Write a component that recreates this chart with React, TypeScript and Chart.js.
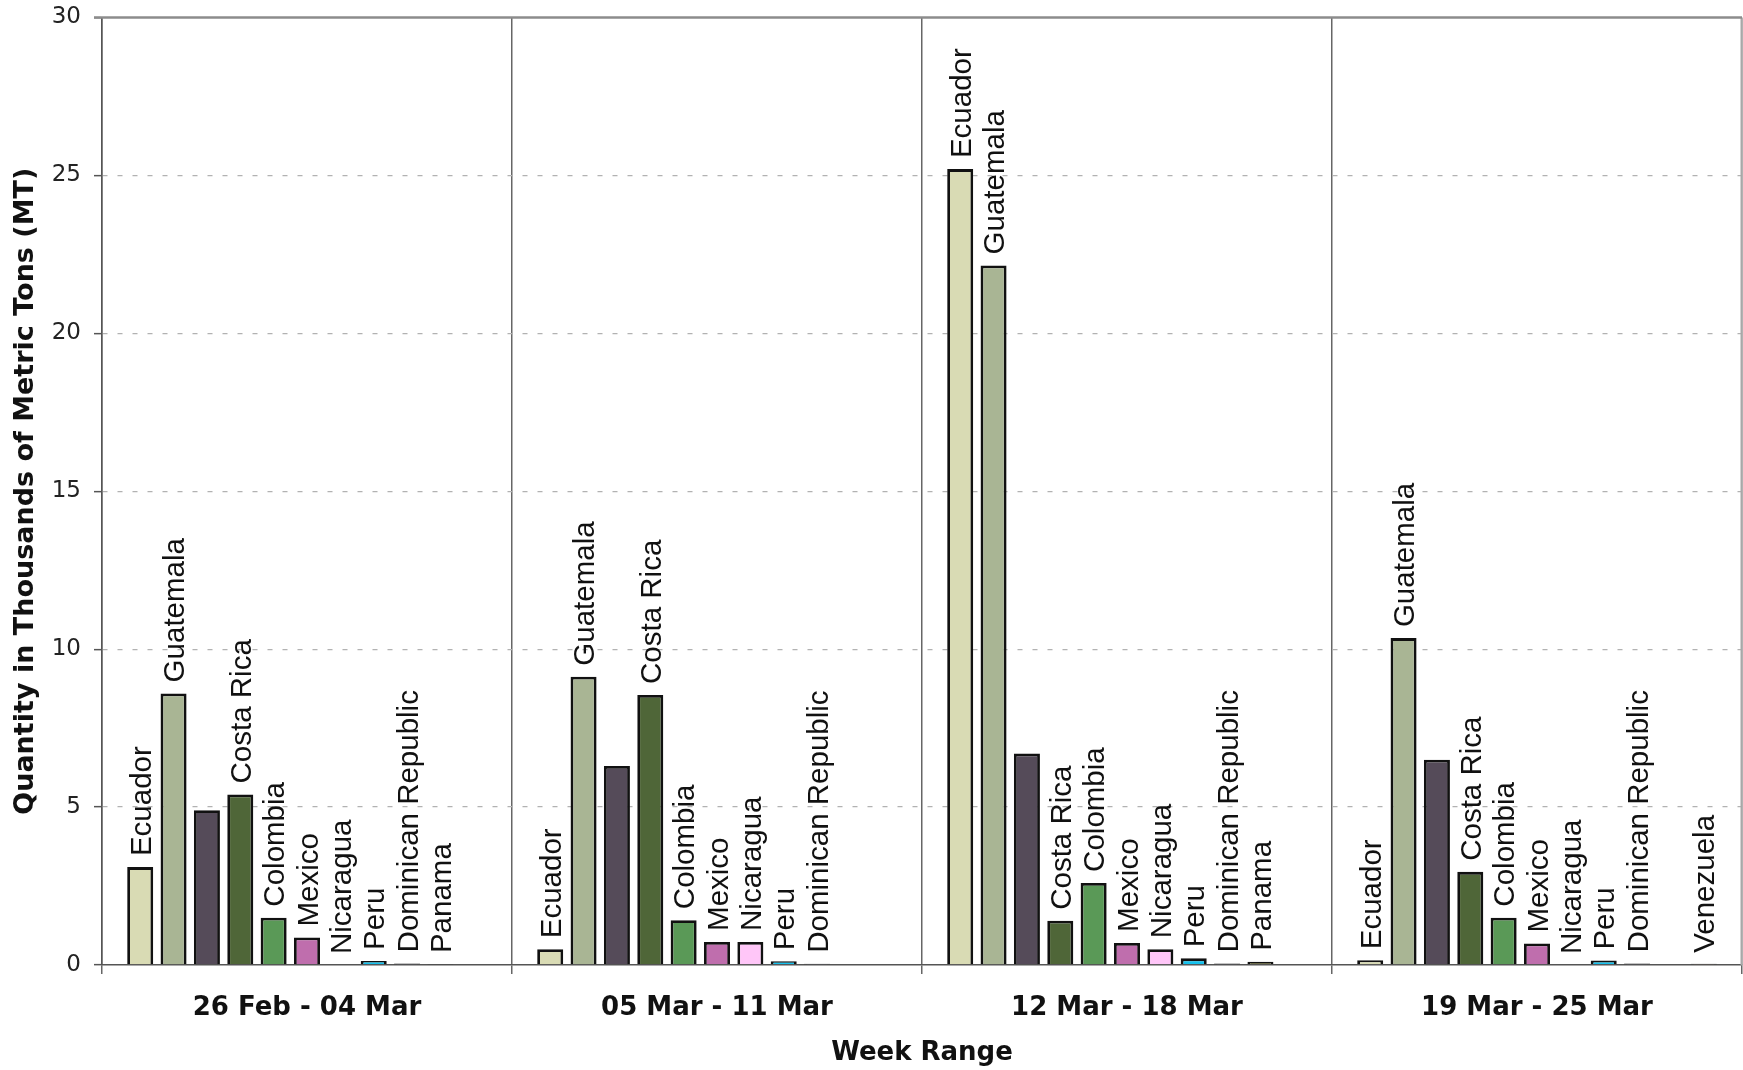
import React, { useEffect, useRef } from "react";
import { Chart, registerables } from "chart.js";

Chart.register(...registerables);

const weeks = ["26 Feb - 04 Mar", "05 Mar - 11 Mar", "12 Mar - 18 Mar", "19 Mar - 25 Mar"];

const ecuador = [3.1, 0.5, 25.2, 0.15];
const guatemala = [8.6, 9.13, 22.15, 10.35];
const honduras = [4.9, 6.3, 6.7, 6.5];
const costaRica = [5.4, 8.55, 1.4, 2.95];
const colombia = [1.5, 1.42, 2.6, 1.5];
const mexico = [0.87, 0.73, 0.7, 0.68];
const nicaragua = [0, 0.73, 0.5, 0];
const peru = [0.13, 0.12, 0.21, 0.14];
const dominicanRepublic = [0.05, 0.04, 0.05, 0.05];
const panama = [0.03, null, 0.1, null];
const venezuela = [null, null, null, 0.04];

const seriesNames = [
  "Ecuador",
  "Guatemala",
  "Honduras",
  "Costa Rica",
  "Colombia",
  "Mexico",
  "Nicaragua",
  "Peru",
  "Dominican Republic",
  "Panama",
  "Venezuela",
];
const seriesValues = [
  ecuador,
  guatemala,
  honduras,
  costaRica,
  colombia,
  mexico,
  nicaragua,
  peru,
  dominicanRepublic,
  panama,
  venezuela,
];
const seriesColors = [
  "#d9dbb4",
  "#a9b594",
  "#554b59",
  "#4f6638",
  "#5a9957",
  "#bf6ead",
  "#ffc6f8",
  "#14c1ee",
  "#33334d",
  "#6b6b4a",
  "#7a5a3a",
];
const seriesLabelShown = [true, true, false, true, true, true, true, true, true, true, true];

const yTicks = [0, 5, 10, 15, 20, 25, 30];
const yTitle = "Quantity in Thousands of Metric Tons (MT)";
const xTitle = "Week Range";

const barLabelPlugin = {
  id: "barLabels",
  afterDatasetsDraw(chart: any) {
    const ctx = chart.ctx;
    ctx.save();
    ctx.font = "29.5px 'Liberation Sans', Arial, sans-serif";
    ctx.fillStyle = "#111";
    ctx.textAlign = "left";
    ctx.textBaseline = "alphabetic";
    chart.data.datasets.forEach((ds: any, i: number) => {
      if (!seriesLabelShown[i]) return;
      const meta = chart.getDatasetMeta(i);
      meta.data.forEach((bar: any, j: number) => {
        const v = ds.data[j];
        if (v === null || v === undefined) return;
        ctx.save();
        ctx.translate(bar.x + 10.5, bar.y - 11);
        ctx.rotate(-Math.PI / 2);
        ctx.fillText(ds.label, 0, 0);
        ctx.restore();
      });
    });
    ctx.restore();
  },
};

const framePlugin = {
  id: "frame",
  afterDraw(chart: any) {
    const { ctx, chartArea } = chart;
    ctx.save();
    ctx.strokeStyle = "#a8a8a8";
    ctx.lineWidth = 1.5;
    ctx.beginPath();
    ctx.moveTo(chartArea.right - 0.75, chartArea.top);
    ctx.lineTo(chartArea.right - 0.75, chartArea.bottom);
    ctx.stroke();
    ctx.strokeStyle = "#8c8c8c";
    ctx.lineWidth = 2.5;
    ctx.beginPath();
    ctx.moveTo(chartArea.left - 8, chartArea.top);
    ctx.lineTo(chartArea.right, chartArea.top);
    ctx.stroke();
    ctx.restore();
  },
};

export default function App() {
  const canvasRef = useRef<HTMLCanvasElement | null>(null);

  useEffect(() => {
    const canvas = canvasRef.current;
    if (!canvas) return;
    const chart = new Chart(canvas, {
      type: "bar",
      data: {
        labels: weeks,
        datasets: seriesNames.map((name, i) => ({
          label: name,
          data: seriesValues[i],
          backgroundColor: seriesColors[i],
          borderColor: "#111111",
          borderWidth: 2.8,
          categoryPercentage: 0.895,
          barPercentage: 0.78,
        })),
      },
      options: {
        responsive: false,
        animation: false,
        devicePixelRatio: 1,
        layout: { padding: { top: 17.5, right: 1, left: 0, bottom: 0 } },
        plugins: {
          legend: { display: false },
          tooltip: { enabled: false },
        },
        scales: {
          x: {
            grid: {
              offset: true,
              color: "#666666",
              lineWidth: 1.5,
              drawTicks: true,
              tickLength: 9,
              tickColor: "#666666",
            },
            border: { display: true, color: "#555555", width: 1.5 },
            ticks: {
              color: "#111",
              padding: 19,
              font: { family: "'DejaVu Sans', Verdana, sans-serif", size: 26, weight: "bold" },
            },
            title: {
              display: true,
              text: xTitle,
              color: "#111",
              font: { family: "'DejaVu Sans', Verdana, sans-serif", size: 26, weight: "bold" },
              padding: { top: 0, bottom: 1 },
            },
            afterFit: (scale: any) => {
              scale.height = 105;
              scale.paddingLeft = 0;
              scale.paddingRight = 0;
            },
          },
          y: {
            min: 0,
            max: 30,
            afterBuildTicks: (scale: any) => {
              scale.ticks = yTicks.map((v) => ({ value: v }));
            },
            grid: {
              color: (c: any) =>
                c.tick && (c.tick.value === 0 || c.tick.value === 30) ? "rgba(0,0,0,0)" : "#b2b2b2",
              lineWidth: 1.3,
              drawTicks: true,
              tickLength: 8,
              tickColor: "#555555",
              tickWidth: 1.5,
              tickBorderDash: [],
            },
            border: { display: true, color: "#555555", width: 1.5, dash: [5, 10] },
            ticks: {
              color: "#222",
              padding: 13,
              font: { family: "'DejaVu Sans', Verdana, sans-serif", size: 23 },
            },
            title: {
              display: true,
              text: yTitle,
              color: "#111",
              font: { family: "'DejaVu Sans', Verdana, sans-serif", size: 27, weight: "bold" },
              padding: { top: 10, bottom: 0 },
            },
            afterFit: (scale: any) => {
              scale.width = 102;
              scale.paddingTop = 0;
              scale.paddingBottom = 0;
            },
          },
        },
      },
      plugins: [barLabelPlugin, framePlugin],
    });
    return () => chart.destroy();
  }, []);

  return (
    <div style={{ position: "absolute", left: 0, top: 0, width: 1743, height: 1070, background: "#fff" }}>
      <canvas ref={canvasRef} width={1743} height={1070} style={{ display: "block" }} />
    </div>
  );
}
